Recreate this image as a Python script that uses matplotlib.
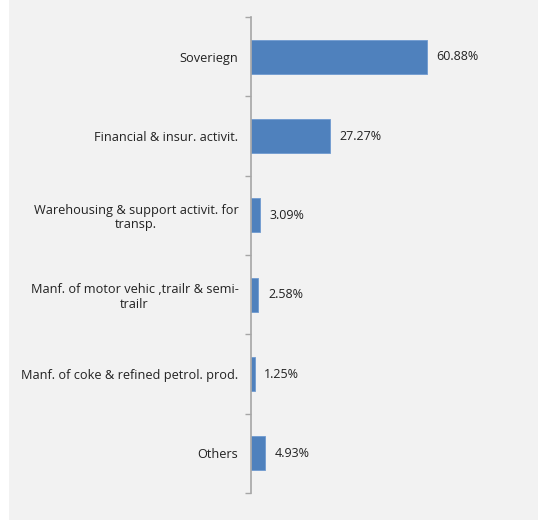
import matplotlib
matplotlib.use("Agg")
import matplotlib.pyplot as plt
from matplotlib.patches import Rectangle

categories = ["Soveriegn", "Financial & insur. activit.",
              "Warehousing & support activit. for\ntransp.",
              "Manf. of motor vehic ,trailr & semi-\ntrailr",
              "Manf. of coke & refined petrol. prod.", "Others"]
values = [60.88, 27.27, 3.09, 2.58, 1.25, 4.93]
value_labels = ["60.88%", "27.27%", "3.09%", "2.58%", "1.25%", "4.93%"]

plt.rcParams['font.family'] = ['Open Sans', 'DejaVu Sans']

fig = plt.figure(figsize=(5.38, 5.2), dpi=100)
fig.patch.set_facecolor('white')
fig.patches.append(Rectangle((9/538, 0), 1, 1, transform=fig.transFigure,
                             facecolor='#f2f2f2', edgecolor='none', zorder=-10))

ax = fig.add_axes([251/538, 27/520, 260/538, 476/520])
ax.set_facecolor('none')
n = len(categories)
ypos = list(range(n))
ax.barh(ypos, values, height=0.43, color='#4f81bd', edgecolor='#6f9ad0', linewidth=0.6)
ax.set_ylim(n - 0.5, -0.5)
ax.set_xlim(0, 90)

for y, v, lab in zip(ypos, values, value_labels):
    ax.text(v + 3.3, y, lab, va='center', ha='left', fontsize=9, color='#222222')

ax.set_yticks(ypos)
ax.set_yticklabels(categories, fontsize=9.2, color='#222222', multialignment='center',
                   linespacing=1.15)
ax.tick_params(axis='y', which='major', length=0, pad=9)
ax.set_yticks([i - 0.5 for i in range(n + 1)], minor=True)
ax.tick_params(axis='y', which='minor', length=4, width=1, color='#a6a6a6', direction='out')
ax.set_xticks([])
for s in ['top', 'right', 'bottom']:
    ax.spines[s].set_visible(False)
ax.spines['left'].set_color('#a6a6a6')
ax.spines['left'].set_linewidth(1.2)

fig.savefig('out.png', dpi=100, facecolor=fig.get_facecolor())
